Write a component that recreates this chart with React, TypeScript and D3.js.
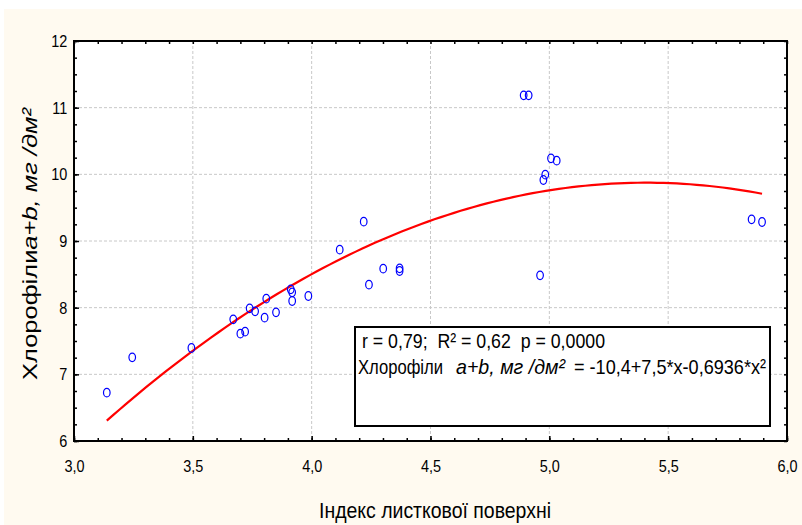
import { useEffect, useRef } from "react";
import * as d3 from "d3";

// Індекс листкової поверхні (x) та вміст хлорофілів a+b (y)
const lai = [3.138, 3.245, 3.494, 3.67, 3.7, 3.72, 3.739, 3.762, 3.802, 3.809, 3.85, 3.912, 3.918, 3.918, 3.986,
  4.118, 4.219, 4.241, 4.301, 4.37, 4.37, 4.892, 4.913, 4.961, 4.975, 4.983, 5.007, 5.031, 5.851, 5.895];
const chlorophyll = [6.725, 7.255, 7.395, 7.825, 7.61, 7.64, 7.99, 7.945, 7.85, 8.135, 7.93, 8.275, 8.23, 8.1, 8.175,
  8.87, 9.29, 8.345, 8.585, 8.59, 8.55, 11.185, 11.185, 8.485, 9.915, 9.995, 10.24, 10.205, 9.325, 9.285];

// y = a + b*x + c*x^2
const coef = [-10.4, 7.5, -0.6936];

const xTicks = [3, 3.5, 4, 4.5, 5, 5.5, 6];
const yTicks = [6, 7, 8, 9, 10, 11, 12];

const narrow = "'Liberation Sans Narrow', 'Arial Narrow', 'Liberation Sans', Arial, sans-serif";

export default function App() {
  const ref = useRef<SVGSVGElement>(null);

  useEffect(() => {
    const svg = d3.select(ref.current);
    svg.selectAll("*").remove();

    const x = d3.scaleLinear().domain([3, 6]).range([74, 787]);
    const y = d3.scaleLinear().domain([6, 12]).range([441, 41]);
    const fmt = (d: number) => d3.format(".1f")(d).replace(".", ",");

    svg.append("rect").attr("width", 802).attr("height", 525).attr("fill", "#ffffff");
    svg.append("rect").attr("x", 4).attr("y", 9).attr("width", 798).attr("height", 516).attr("fill", "#fffaf0");

    // plot area
    svg.append("rect")
      .attr("x", x(3)).attr("y", y(12))
      .attr("width", x(6) - x(3)).attr("height", y(6) - y(12))
      .attr("fill", "#ffffff");

    // grid
    const grid = svg.append("g")
      .attr("stroke", "#c8c8c8")
      .attr("stroke-width", 1)
      .attr("stroke-dasharray", "3,2");
    grid.selectAll(".gx").data(xTicks.slice(1, -1)).enter().append("line")
      .attr("x1", d => x(d)).attr("x2", d => x(d))
      .attr("y1", y(12)).attr("y2", y(6));
    grid.selectAll(".gy").data(yTicks.slice(1, -1)).enter().append("line")
      .attr("x1", x(3)).attr("x2", x(6))
      .attr("y1", d => y(d)).attr("y2", d => y(d));

    // minor ticks
    const xMinor = d3.range(31).map(i => 3 + i * 0.1);
    const yMinor = d3.range(25).map(i => 6 + i * 0.25);
    const noLabel = () => "";

    const tickAxes = [
      { a: d3.axisBottom(x).tickValues(xMinor).tickSize(-3).tickFormat(noLabel), t: `translate(0,${y(6)})` },
      { a: d3.axisTop(x).tickValues(xMinor).tickSize(-3).tickFormat(noLabel), t: `translate(0,${y(12)})` },
      { a: d3.axisLeft(y).tickValues(yMinor).tickSize(-3).tickFormat(noLabel), t: `translate(${x(3)},0)` },
      { a: d3.axisRight(y).tickValues(yMinor).tickSize(-3).tickFormat(noLabel), t: `translate(${x(6)},0)` },
    ];
    tickAxes.forEach(({ a, t }) => {
      const g = svg.append("g").attr("transform", t).call(a as any);
      g.select(".domain").remove();
      g.selectAll("line").attr("stroke", "#000").attr("stroke-width", 1.5);
    });

    // labelled axes
    const xAxis = svg.append("g")
      .attr("transform", `translate(0,${y(6)})`)
      .call(d3.axisBottom(x).tickValues(xTicks).tickFormat(d => fmt(+d)).tickSize(-5).tickPadding(19));
    const yAxis = svg.append("g")
      .attr("transform", `translate(${x(3)},0)`)
      .call(d3.axisLeft(y).tickValues(yTicks).tickFormat(d => String(d)).tickSize(-5).tickPadding(8));
    [xAxis, yAxis].forEach(g => {
      g.select(".domain").remove();
      g.selectAll("line").attr("stroke", "#000").attr("stroke-width", 1.5);
      g.attr("font-family", narrow).attr("font-size", 17);
      g.selectAll("text").attr("fill", "#000").attr("transform", "scale(0.85,1)");
    });

    // frame
    svg.append("rect")
      .attr("x", x(3)).attr("y", y(12))
      .attr("width", x(6) - x(3)).attr("height", y(6) - y(12))
      .attr("fill", "none").attr("stroke", "#000").attr("stroke-width", 2);

    // regression curve
    const fit = (v: number) => coef[0] + coef[1] * v + coef[2] * v * v;
    const [x0, x1] = d3.extent(lai) as [number, number];
    const curveX = d3.range(101).map(i => x0 + (x1 - x0) * i / 100);
    svg.append("path")
      .datum(curveX)
      .attr("d", d3.line<number>().x(d => x(d)).y(d => y(fit(d))))
      .attr("fill", "none")
      .attr("stroke", "#ff0000")
      .attr("stroke-width", 2.2);

    // points
    svg.append("g").selectAll("ellipse").data(lai).enter().append("ellipse")
      .attr("cx", d => x(d))
      .attr("cy", (_, i) => y(chlorophyll[i]))
      .attr("rx", 3.3).attr("ry", 4.3)
      .attr("fill", "none")
      .attr("stroke", "#0000ff")
      .attr("stroke-width", 1.2);

    // legend box
    svg.append("rect")
      .attr("x", 355).attr("y", 327).attr("width", 415).attr("height", 99)
      .attr("fill", "#ffffff").attr("stroke", "#000").attr("stroke-width", 2);

    const legendText = (tx: number, ty: number, len: number, s: string, italic = false) =>
      svg.append("text")
        .attr("x", tx).attr("y", ty)
        .attr("font-family", narrow).attr("font-size", 21)
        .attr("font-style", italic ? "italic" : "normal")
        .attr("textLength", len).attr("lengthAdjust", "spacingAndGlyphs")
        .style("white-space", "pre")
        .text(s);

    legendText(362, 348, 243, "r = 0,79;  R² = 0,62  p = 0,0000");
    legendText(358, 374, 85, "Хлорофіли");
    legendText(456, 374, 109, "a+b, мг /дм²", true);
    legendText(574, 374, 192, "= -10,4+7,5*x-0,6936*x²");

    // axis titles
    svg.append("text")
      .attr("x", 435).attr("y", 518)
      .attr("text-anchor", "middle")
      .attr("font-family", narrow).attr("font-size", 22)
      .attr("textLength", 232).attr("lengthAdjust", "spacingAndGlyphs")
      .text("Індекс листкової поверхні");

    const yt = svg.append("text")
      .attr("transform", "translate(37,380) rotate(-90)")
      .attr("font-family", narrow).attr("font-size", 21)
      .attr("textLength", 272).attr("lengthAdjust", "spacingAndGlyphs");
    yt.append("tspan").text("Хлорофіли");
    yt.append("tspan").attr("font-style", "italic").text("a+b, мг /дм²");
  }, []);

  return <svg ref={ref} width={802} height={525} style={{ position: "absolute", left: 0, top: 0 }} />;
}
